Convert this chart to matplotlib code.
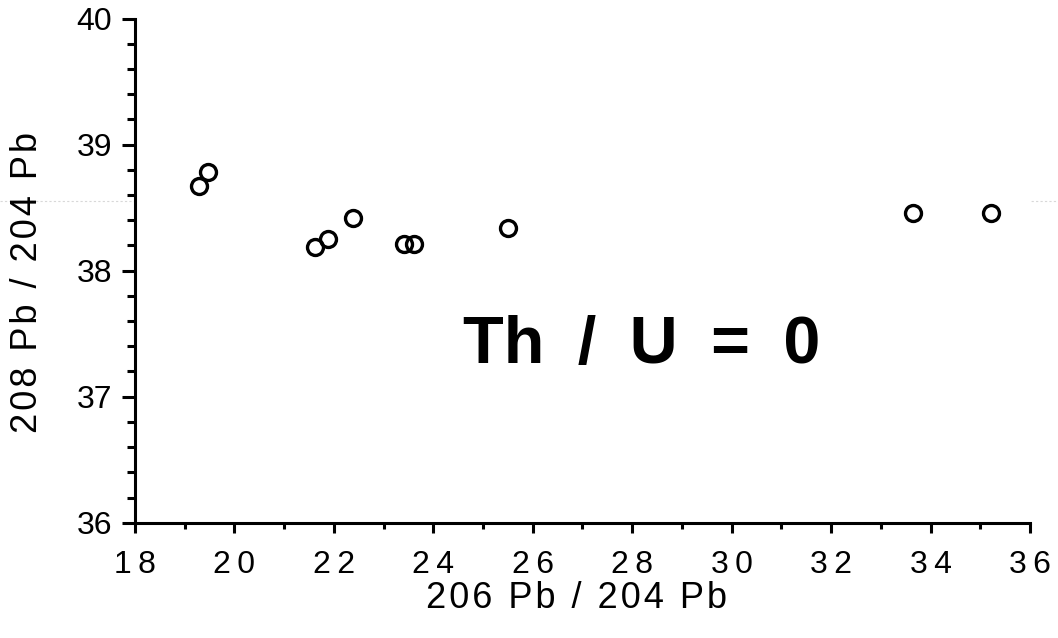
import numpy as np
import matplotlib
matplotlib.use('Agg')
import matplotlib.pyplot as plt
from matplotlib.ticker import MultipleLocator
from matplotlib.lines import Line2D

# data
pb206_204 = [19.29, 19.46, 21.62, 21.89, 22.38, 23.41, 23.62, 25.51, 33.64, 35.21]
pb208_204 = [38.67, 38.78, 38.19, 38.25, 38.42, 38.21, 38.21, 38.34, 38.46, 38.46]

x_ticks = [18, 20, 22, 24, 26, 28, 30, 32, 34, 36]
y_ticks = [36, 37, 38, 39, 40]
xlab = '206 Pb / 204 Pb'
ylab = '208 Pb / 204 Pb'
annot = ['Th', '/', 'U', '=', '0']
annot_xy = (28.2, 37.40)
scan_line_y = 38.555  # faint dotted scan artefact

plt.rcParams['font.family'] = ['Liberation Sans', 'DejaVu Sans']

def spaced(s, sep='\u200a'):
    return sep.join(s)

fig = plt.figure(figsize=(10.58, 6.38), dpi=100)
ax = fig.add_axes([0.1276, 0.1807, 0.8459, 0.7903])

ax.plot(pb206_204, pb208_204, ls='none', marker='o', ms=11.5, mfc='none',
        mec='black', mew=2.4, clip_on=False, zorder=3)

ax.set_xlim(18, 36)
ax.set_ylim(36, 40)
ax.set_xticks(x_ticks)
ax.set_yticks(y_ticks)
ax.xaxis.set_minor_locator(MultipleLocator(1))
ax.yaxis.set_minor_locator(MultipleLocator(0.2))

for s in ('top', 'right'):
    ax.spines[s].set_visible(False)
for s in ('left', 'bottom'):
    ax.spines[s].set_linewidth(2.2)

ax.tick_params(axis='x', which='major', direction='out', length=7, width=2.2,
               labelsize=23, pad=13)
ax.tick_params(axis='x', which='minor', direction='out', length=4, width=2.2)
ax.tick_params(axis='y', which='major', direction='out', length=9.5, width=2.2,
               labelsize=23, pad=7)
ax.tick_params(axis='y', which='minor', direction='out', length=5.5, width=2.2)

ax.set_xticklabels(['\u2009'.join(str(t)) for t in x_ticks])

ax.set_xlabel(spaced(xlab), fontsize=26, va='center')
ax.set_ylabel(spaced(ylab), fontsize=26, va='center')
ax.xaxis.set_label_coords(0.493, -0.150)
ax.yaxis.set_label_coords(-0.1196, 0.477)

ax.text(annot_xy[0], annot_xy[1], '\u2002'.join(annot), fontsize=48,
        fontweight='bold', ha='center', va='center')

# faint horizontal scan line across the whole page
yfig = fig.transFigure.inverted().transform(ax.transData.transform((18, scan_line_y)))[1]
fig.add_artist(Line2D([0, 1], [yfig, yfig], transform=fig.transFigure,
                      color='#d8d8d8', lw=0.8, ls=(0, (2, 2)), zorder=0))

fig.savefig('out.png', dpi=100, facecolor='white')
